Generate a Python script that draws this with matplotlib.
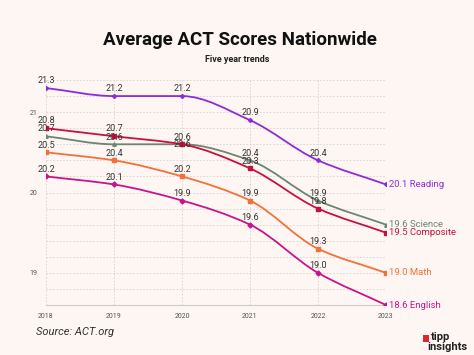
import matplotlib
matplotlib.use("Agg")
import matplotlib.pyplot as plt
from matplotlib.path import Path
from matplotlib.patches import PathPatch, Rectangle
import numpy as np

years = [2018, 2019, 2020, 2021, 2022, 2023]
series_names = ["Reading", "Science", "Composite", "Math", "English"]
reading = [21.3, 21.2, 21.2, 20.9, 20.4, 20.1]
science = [20.7, 20.6, 20.6, 20.4, 19.9, 19.6]
composite = [20.8, 20.7, 20.6, 20.3, 19.8, 19.5]
math_ = [20.5, 20.4, 20.2, 19.9, 19.3, 19.0]
english = [20.2, 20.1, 19.9, 19.6, 19.0, 18.6]
colors = ["#8e2bd6", "#6e8470", "#c8103e", "#f2713a", "#c6158c"]
markers = ["P", "^", "s", "s", "D"]

bg = "#fdf6f2"
plt.rcParams["font.family"] = ["Roboto", "DejaVu Sans"]

fig = plt.figure(figsize=(4.74, 3.55), dpi=100, facecolor=bg)
ax = fig.add_axes([46/474, 50/355, 340/474, 225/355])
ax.set_facecolor(bg)
ax.set_xlim(2018, 2023)
ax.set_ylim(18.6, 21.4)

def smooth_path(xs, ys):
    xs = np.asarray(xs, float); ys = np.asarray(ys, float)
    n = len(xs)
    d = np.diff(ys) / np.diff(xs)
    m = np.zeros(n)
    m[0] = d[0]; m[-1] = d[-1]
    for i in range(1, n - 1):
        if d[i-1] * d[i] <= 0:
            m[i] = 0
        else:
            m[i] = 2 / (1/d[i-1] + 1/d[i])
    verts = [(xs[0], ys[0])]
    codes = [Path.MOVETO]
    for i in range(n - 1):
        h = xs[i+1] - xs[i]
        verts += [(xs[i] + h/3, ys[i] + m[i]*h/3),
                  (xs[i+1] - h/3, ys[i+1] - m[i+1]*h/3),
                  (xs[i+1], ys[i+1])]
        codes += [Path.CURVE4] * 3
    return Path(verts, codes)

all_series = [reading, science, composite, math_, english]
for name, vals, c, mk in zip(series_names, all_series, colors, markers):
    ax.add_patch(PathPatch(smooth_path(years, vals), fill=False, edgecolor=c, lw=1.3, zorder=3))
    ax.plot(years, vals, ls="none", marker=mk, ms=2.5, color=c, zorder=4)
    for i, (x, v) in enumerate(zip(years[:-1], vals[:-1])):
        if name == "Composite" and x == 2020:
            ax.annotate(f"{v:.1f}", (x, v), xytext=(0, 0), textcoords="offset points",
                        ha="center", va="center", fontsize=6.5, color="#333333", zorder=5)
            continue
        ax.annotate(f"{v:.1f}", (x, v), xytext=(0, 2.0), textcoords="offset points",
                    ha="center", va="bottom", fontsize=6.5, color="#333333", zorder=5)
    ax.annotate(f"{vals[-1]:.1f} {name}", (years[-1], vals[-1]), xytext=(2, 0),
                textcoords="offset points", ha="left", va="center", fontsize=6.8,
                color=c, zorder=5, annotation_clip=False)

ax.set_xticks(years)
ax.set_xticklabels([str(y) for y in years])
ax.set_yticks([19, 20, 21])
ax.set_yticks(np.arange(18.6, 21.41, 0.2), minor=True)
ax.tick_params(axis="both", labelsize=5, colors="#555555", length=0, pad=6)
ax.tick_params(axis="y", which="minor", length=0)
ax.grid(True, which="both", axis="y", color="#d8d2cf", lw=0.6, ls=(0, (2, 2)))
ax.grid(True, which="major", axis="x", color="#d8d2cf", lw=0.6, ls=(0, (2, 2)))
for s in ["top", "right", "left"]:
    ax.spines[s].set_visible(False)
ax.spines["bottom"].set_color("#cccccc")
ax.spines["bottom"].set_linewidth(0.8)

fig.text(0.5 + 3/474, 1 - 40/355, "Average ACT Scores Nationwide", ha="center", va="center",
         fontsize=13.5, fontweight="bold", color="#111111")
fig.text(0.5, 1 - 59/355, "Five year trends", ha="center", va="center",
         fontsize=6.5, fontweight="bold", color="#222222")
fig.text(36/474, 1 - 332/355, "Source: ACT.org", ha="left", va="center",
         fontsize=8, fontstyle="italic", color="#333333")

fig.patches.append(Rectangle((423/474, 1 - 342/355), 6/474, 7/355, transform=fig.transFigure,
                             facecolor="#d9282f", edgecolor="none"))
fig.text(431/474, 1 - 337/355, "tipp", ha="left", va="center", fontsize=8,
         fontweight="bold", color="#222222")
fig.text(467/474, 1 - 347/355, "insights", ha="right", va="center", fontsize=8,
         fontweight="bold", color="#222222")

fig.savefig("out.png", dpi=100, facecolor=bg)
